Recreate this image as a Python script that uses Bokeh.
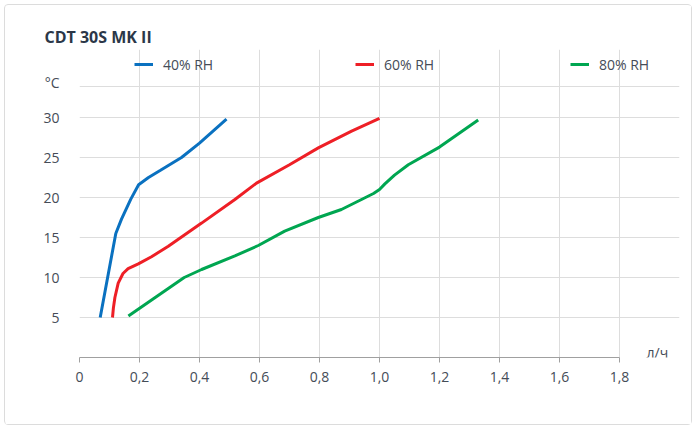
from bokeh.plotting import figure
from bokeh.models import Range1d, FixedTicker, Label, Legend, LegendItem, Grid
from bokeh.embed import file_html
from bokeh.resources import INLINE

# data (x: л/ч, y: °C)
rh40_x = [0.069, 0.121, 0.14, 0.171, 0.197, 0.23, 0.27, 0.34, 0.4, 0.49]
rh40_y = [5, 15.5, 17.3, 19.8, 21.6, 22.5, 23.4, 25, 26.8, 29.8]
rh60_x = [0.11, 0.113, 0.118, 0.129, 0.145, 0.162, 0.196, 0.24, 0.296, 0.407, 0.518, 0.59, 0.7, 0.796, 0.907, 1.0]
rh60_y = [5, 6.2, 7.5, 9.3, 10.5, 11.1, 11.7, 12.6, 13.9, 16.8, 19.75, 21.8, 24.1, 26.2, 28.3, 29.9]
rh80_x = [0.163, 0.349, 0.407, 0.518, 0.596, 0.684, 0.796, 0.873, 0.94, 0.98, 1.0, 1.018, 1.05, 1.096, 1.2, 1.329]
rh80_y = [5.2, 10, 11, 12.7, 14, 15.8, 17.5, 18.5, 19.75, 20.5, 21, 21.7, 22.8, 24.1, 26.3, 29.7]
x_ticks = [0, 0.2, 0.4, 0.6, 0.8, 1.0, 1.2, 1.4, 1.6, 1.8]
y_ticks = [5, 10, 15, 20, 25, 30]
x_max, y_max = 1.8, 33.875

FONT = "Open Sans"
TXT = "#454c57"

# frame stretched right/up so the legend and unit label fit inside it
p = figure(width=688, height=421, x_range=Range1d(0, 2.0), y_range=Range1d(0, 38.5),
           title="CDT 30S MK II", output_backend="svg", toolbar_location=None,
           min_border_left=74, min_border_right=14, min_border_top=44, min_border_bottom=69)
p.styles = {"border": "1px solid #dcdcdc", "border-radius": "4px", "margin": "4px"}
p.outline_line_color = None

p.title.text_font = FONT
p.title.text_font_size = "16px"
p.title.text_font_style = "bold"
p.title.text_color = "#2b3748"
p.title.align = "left"
p.title.offset = -35
p.title.standoff = 4

p.xaxis.ticker = FixedTicker(ticks=x_ticks)
p.xaxis.major_label_overrides = {t: ("0" if t == 0 else f"{t:.1f}".replace(".", ",")) for t in x_ticks}
p.xaxis.bounds = (0, x_max)
p.yaxis.ticker = FixedTicker(ticks=y_ticks + [34.4])
p.yaxis.major_label_overrides = {34.4: "°C"}
p.yaxis.axis_line_color = None

p.xgrid.ticker = FixedTicker(ticks=x_ticks[1:])
p.xgrid.bounds = (0, y_max)
p.ygrid.ticker = FixedTicker(ticks=y_ticks + [y_max])
p.ygrid.bounds = (0, x_max)
p.grid.grid_line_color = "#dddddd"
p.add_layout(Grid(dimension=0, ticker=FixedTicker(ticks=[0]), bounds=(0, y_max),
                  grid_line_color="#a0a0a0"))

for ax in (p.xaxis[0], p.yaxis[0]):
    ax.major_label_text_font = FONT
    ax.major_label_text_font_size = "14px"
    ax.major_label_text_color = TXT
    ax.minor_tick_line_color = None
p.xaxis.axis_line_color = "#a0a0a0"
p.xaxis.major_tick_line_color = "#a0a0a0"
p.xaxis.major_tick_out = 5
p.xaxis.major_tick_in = 0
p.xaxis.major_label_standoff = 9
p.yaxis.major_tick_line_color = None
p.yaxis.major_tick_out = 0
p.yaxis.major_tick_in = 0
p.yaxis.major_label_standoff = 20

r40 = p.line(rh40_x, rh40_y, line_color="#0a71c0", line_width=3)
r60 = p.line(rh60_x, rh60_y, line_color="#ee1f26", line_width=3)
r80 = p.line(rh80_x, rh80_y, line_color="#00a651", line_width=3)

for r, name, lx in ((r40, "40% RH", 55), (r60, "60% RH", 276), (r80, "80% RH", 491)):
    leg = Legend(items=[LegendItem(label=name, renderers=[r])], location=(lx, 283),
                 padding=0, margin=0, border_line_color=None, background_fill_alpha=0,
                 glyph_width=19, glyph_height=20, label_standoff=10, label_height=20,
                 label_text_font=FONT, label_text_font_size="14px", label_text_color=TXT)
    p.add_layout(leg)

p.add_layout(Label(x=1.89, y=0.62, text="л/ч", text_font=FONT, text_font_size="14px",
                   text_color=TXT, text_baseline="middle"))

open("out.html", "w").write(file_html(p, INLINE))
